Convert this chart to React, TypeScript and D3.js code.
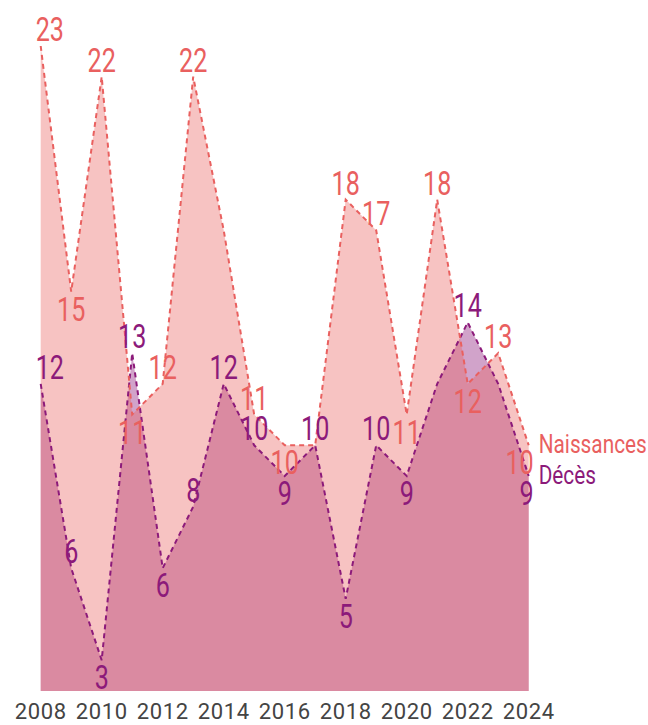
import React, { useEffect, useRef } from 'react';
import * as d3 from 'd3';

const years = [2008, 2009, 2010, 2011, 2012, 2013, 2014, 2015, 2016, 2017, 2018, 2019, 2020, 2021, 2022, 2023, 2024];
const naissances = [23, 15, 22, 11, 12, 22, 17, 11, 10, 10, 18, 17, 11, 18, 12, 13, 10];
const deces = [12, 6, 3, 13, 6, 8, 12, 10, 9, 10, 5, 10, 9, 12, 14, 12, 9];
const tickYears = [2008, 2010, 2012, 2014, 2016, 2018, 2020, 2022, 2024];
// points whose value is not printed in the original
const naissancesHidden = [2014, 2017];
const decesHidden = [2021, 2023];

const NAISS = '#e9605f';
const DECES = '#8c1a7a';
const FONT = 'Roboto, "DejaVu Sans", sans-serif';

export default function App() {
  const ref = useRef<SVGSVGElement>(null);

  useEffect(() => {
    const svg = d3.select(ref.current);
    svg.selectAll('*').remove();

    const xScale = d3.scaleLinear().domain([2008, 2024]).range([40.7, 528.7]);
    const yScale = d3.scaleLinear().domain([2, 23]).range([691, 46]);

    const series = [
      { name: 'Décès', values: deces, color: DECES, opacity: 0.4, hidden: decesHidden },
      { name: 'Naissances', values: naissances, color: NAISS, opacity: 0.38, hidden: naissancesHidden },
    ];

    series.forEach((s) => {
      const pts = years.map((y, i) => [y, s.values[i]] as [number, number]);
      const area = d3
        .area<[number, number]>()
        .x((d) => xScale(d[0]))
        .y0(yScale(2))
        .y1((d) => yScale(d[1]));
      svg
        .append('path')
        .datum(pts)
        .attr('d', area)
        .attr('fill', s.color)
        .attr('fill-opacity', s.opacity);
    });

    series.forEach((s) => {
      const pts = years.map((y, i) => [y, s.values[i]] as [number, number]);
      const line = d3
        .line<[number, number]>()
        .x((d) => xScale(d[0]))
        .y((d) => yScale(d[1]));
      svg
        .append('path')
        .datum(pts)
        .attr('d', line)
        .attr('fill', 'none')
        .attr('stroke', s.color)
        .attr('stroke-width', 2)
        .attr('stroke-dasharray', '5 4');
    });

    // condensed look: squeeze Roboto horizontally
    const narrowText = (x: number, y: number, size: number, sx: number, anchor: string, color: string, txt: string) =>
      svg
        .append('text')
        .attr('transform', `translate(${x},${y}) scale(${sx},1)`)
        .attr('text-anchor', anchor)
        .attr('font-family', FONT)
        .attr('font-size', size)
        .attr('fill', color)
        .text(txt);

    const last = years.length - 1;
    series.forEach((s) => {
      years.forEach((year, i) => {
        if (s.hidden.includes(year)) return;
        const v = s.values[i];
        const below =
          (i === 0 || v <= s.values[i - 1]) && (i === last || v <= s.values[i + 1]);
        const px = xScale(year);
        const py = yScale(v);
        let anchor = 'middle';
        let tx = px;
        if (i === 0) {
          anchor = 'start';
          tx = px - 5;
        } else if (i === last) {
          anchor = 'end';
          tx = px + 5;
        }
        narrowText(tx, below ? py + 29 : py - 5, 34, 0.74, anchor, s.color, String(v));
      });

      // series name at the end of its line
      narrowText(xScale(2024) + 10, yScale(s.values[last]) + 8, 26, 0.8, 'start', s.color, s.name);
    });

    svg
      .selectAll('.tick-label')
      .data(tickYears)
      .enter()
      .append('text')
      .attr('class', 'tick-label')
      .attr('x', (d) => xScale(d))
      .attr('y', 719)
      .attr('text-anchor', 'middle')
      .attr('font-family', FONT)
      .attr('font-size', 22)
      .attr('letter-spacing', 0.6)
      .attr('fill', '#444444')
      .text((d) => d);
  }, []);

  return (
    <svg
      ref={ref}
      width={648}
      height={725}
      style={{ position: 'absolute', left: 0, top: 0, background: '#fff' }}
    />
  );
}
